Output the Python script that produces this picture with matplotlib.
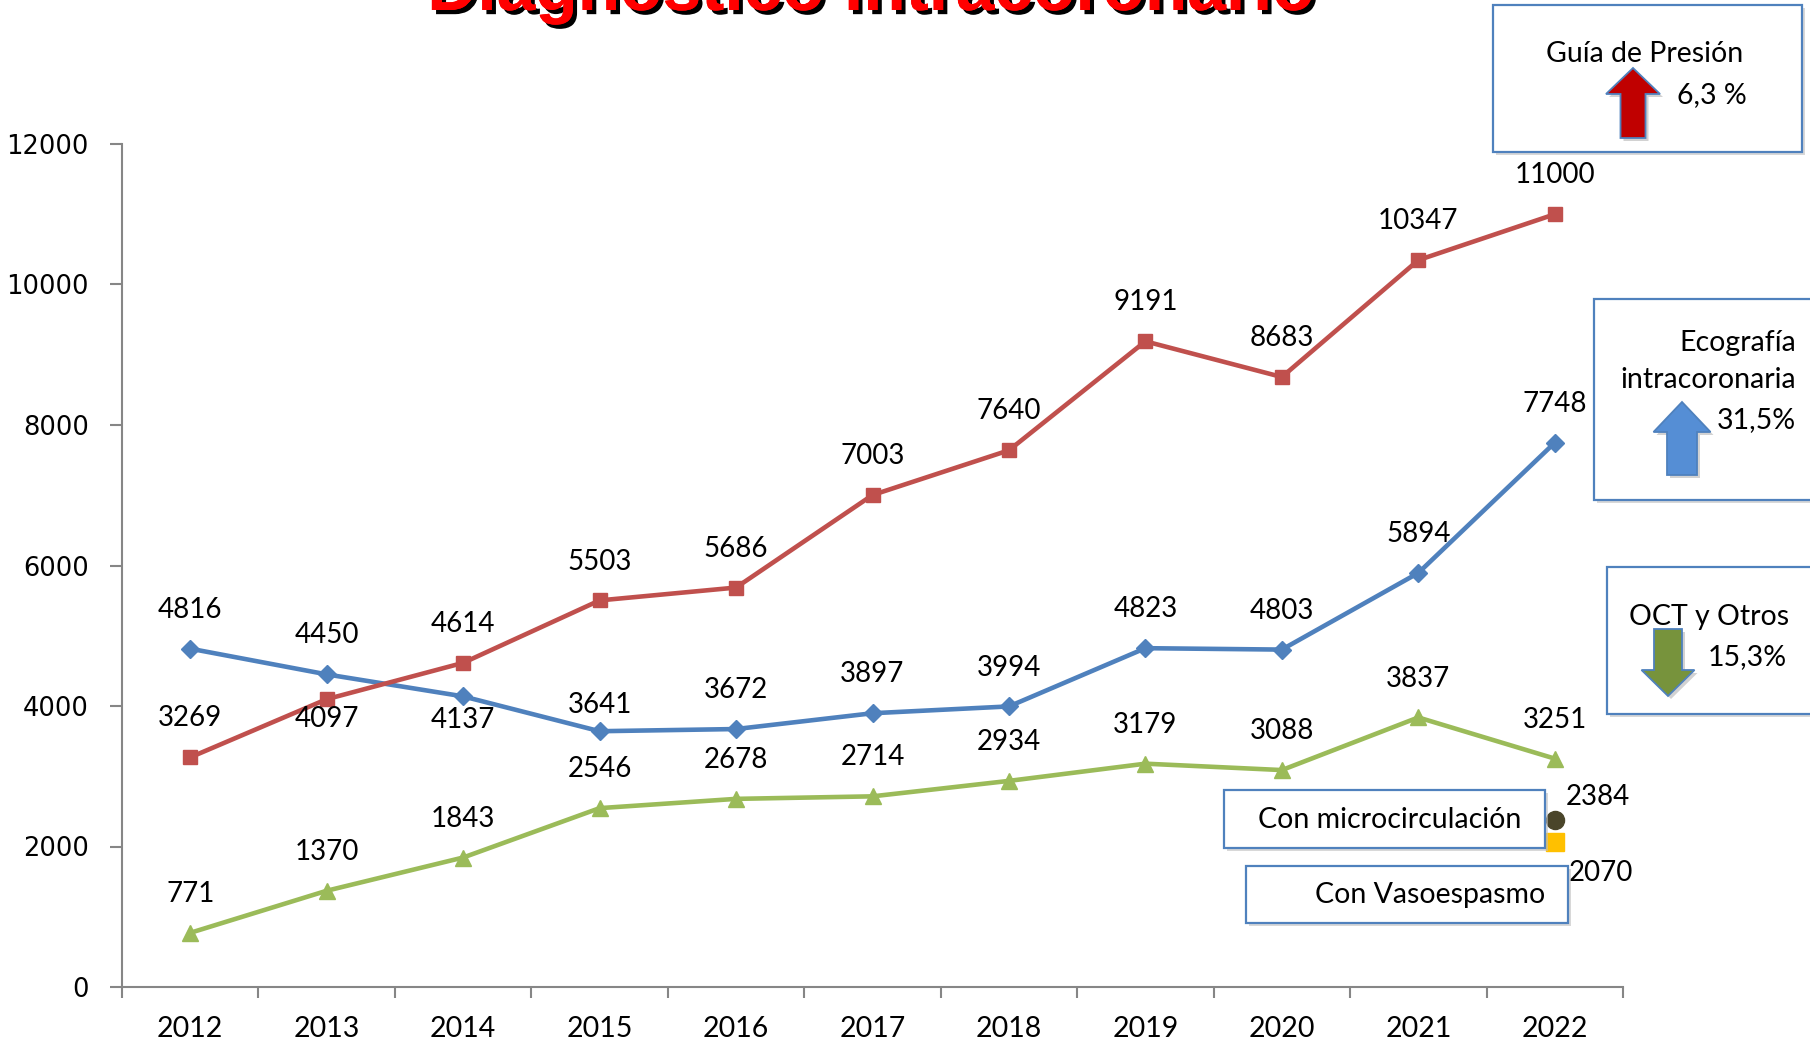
import matplotlib
matplotlib.use("Agg")
import matplotlib.pyplot as plt
from matplotlib.patches import Rectangle, Polygon
import matplotlib.patheffects as pe

# ---------------- data ----------------
years = ["2012", "2013", "2014", "2015", "2016", "2017", "2018", "2019", "2020", "2021", "2022"]
ecografia = [4816, 4450, 4137, 3641, 3672, 3897, 3994, 4823, 4803, 5894, 7748]
guia_presion = [3269, 4097, 4614, 5503, 5686, 7003, 7640, 9191, 8683, 10347, 11000]
oct_otros = [771, 1370, 1843, 2546, 2678, 2714, 2934, 3179, 3088, 3837, 3251]
microcirculacion = [2384]
vasoespasmo = [2070]
yticks = [0, 2000, 4000, 6000, 8000, 10000, 12000]
title = "Diagnóstico intracoronario"

W, H = 1810, 1044
LBL = ["Lato", "DejaVu Sans"]

fig = plt.figure(figsize=(W / 100, H / 100), dpi=100)
ax = fig.add_axes([122 / W, 57 / H, (1623 - 122) / W, (987 - 144) / H])

x = list(range(len(years)))
BLUE, RED, GREEN = "#4F81BD", "#C0504D", "#9BBB59"

ax.plot(x, ecografia, color=BLUE, lw=3.3, marker="D", ms=9, zorder=3)
ax.plot(x, guia_presion, color=RED, lw=3.3, marker="s", ms=10.5, zorder=3)
ax.plot(x, oct_otros, color=GREEN, lw=3.3, marker="^", ms=12, zorder=3)
ax.plot([x[-1]], microcirculacion, ls="none", marker="o", ms=13, color="#4A452A", zorder=3)
ax.plot([x[-1]], vasoespasmo, ls="none", marker="s", ms=13, color="#FFC000", zorder=3)

below = {("g", 1): -14, ("e", 2): -17, ("e", 3): 19}
for key, series in (("e", ecografia), ("g", guia_presion), ("o", oct_otros)):
    for i, v in enumerate(series):
        dy = below.get((key, i), 28)
        ax.annotate(str(v), (x[i], v), xytext=(0, dy), textcoords="offset points",
                    ha="center", va="center", fontsize=20, family=LBL, zorder=5)

ax.annotate(str(microcirculacion[0]), (x[-1], microcirculacion[0]), xytext=(31, 16),
            textcoords="offset points", ha="center", va="center", fontsize=20, family=LBL)
ax.annotate(str(vasoespasmo[0]), (x[-1], vasoespasmo[0]), xytext=(33, -22.5),
            textcoords="offset points", ha="center", va="center", fontsize=20, family=LBL)

ax.set_xlim(-0.5, len(years) - 0.5)
ax.set_ylim(0, 12000)
ax.set_yticks(yticks)
ax.set_yticklabels([str(t) for t in yticks], fontsize=18.5, family="DejaVu Sans")
ax.set_xticks(x)
ax.set_xticklabels(years, fontsize=20.5, family=LBL)
ax.set_xticks([i - 0.5 for i in range(len(years) + 1)], minor=True)
ax.tick_params(axis="x", which="major", length=0, pad=21)
ax.tick_params(axis="x", which="minor", length=8, width=1.5, color="#868686")
ax.tick_params(axis="y", length=9, width=1.5, color="#868686", pad=15)
for s in ("top", "right"):
    ax.spines[s].set_visible(False)
for s in ("left", "bottom"):
    ax.spines[s].set_color("#868686")
    ax.spines[s].set_linewidth(1.5)


def fx(px):
    return px / W


def fy(py):
    return 1 - py / H


def box(x0, y0, x1, y1):
    fig.add_artist(Rectangle((fx(x0 + 3), fy(y1 + 3)), (x1 - x0) / W, (y1 - y0) / H,
                             transform=fig.transFigure, facecolor="#BFBFBF", edgecolor="none",
                             alpha=0.6, zorder=8))
    fig.add_artist(Rectangle((fx(x0), fy(y1)), (x1 - x0) / W, (y1 - y0) / H,
                             transform=fig.transFigure, facecolor="white", edgecolor="#4F81BD",
                             lw=1.6, zorder=9))


def arrow(cx, tip, end, hw, sw, hl, color):
    d = 1 if end > tip else -1
    hb = tip + d * hl
    pts = [(cx, tip), (cx + hw / 2, hb), (cx + sw / 2, hb), (cx + sw / 2, end),
           (cx - sw / 2, end), (cx - sw / 2, hb), (cx - hw / 2, hb)]
    sh = [(fx(px + 3), fy(py + 3)) for px, py in pts]
    fig.add_artist(Polygon(sh, closed=True, transform=fig.transFigure, facecolor="#A6A6A6",
                           edgecolor="none", alpha=0.5, zorder=10))
    fig.add_artist(Polygon([(fx(px), fy(py)) for px, py in pts], closed=True,
                           transform=fig.transFigure, facecolor=color, edgecolor="#4F81BD",
                           lw=1.3, zorder=11))


def ftext(px, py, s, ha="center"):
    fig.text(fx(px), fy(py), s, ha=ha, va="center", fontsize=20.5, family=LBL, zorder=12)


# Guía de Presión
box(1493, 5, 1802, 152)
arrow(1633, 68, 138, 54, 25, 26, "#C00000")
ftext(1645, 54, "Guía de Presión")
ftext(1712, 95, "6,3 %")

# Ecografía intracoronaria
box(1594, 299, 1830, 500)
arrow(1682, 402, 475, 57, 30, 30, "#558ED5")
ftext(1796, 343, "Ecografía", ha="right")
ftext(1796, 380, "intracoronaria", ha="right")
ftext(1796, 420, "31,5%", ha="right")

# OCT y Otros
box(1607, 567, 1830, 714)
arrow(1668, 696, 629, 53, 28, 26, "#77933C")
ftext(1709, 617, "OCT y Otros")
ftext(1747, 657, "15,3%")

# Con microcirculación / Con Vasoespasmo
box(1224, 790, 1545, 848)
ftext(1390, 820, "Con microcirculación")
box(1246, 866, 1568, 923)
ftext(1430, 895, "Con Vasoespasmo")

# Title (cut off at top, as in the original)
fig.text(fx(871), fy(10), title, ha="center", va="baseline", fontsize=50,
         family=["Liberation Sans", "DejaVu Sans"], fontweight="bold", color="#FF0000",
         path_effects=[pe.withSimplePatchShadow(offset=(3, -3), shadow_rgbFace="black", alpha=1),
                       pe.Normal()])

fig.savefig("out.png", dpi=100)
